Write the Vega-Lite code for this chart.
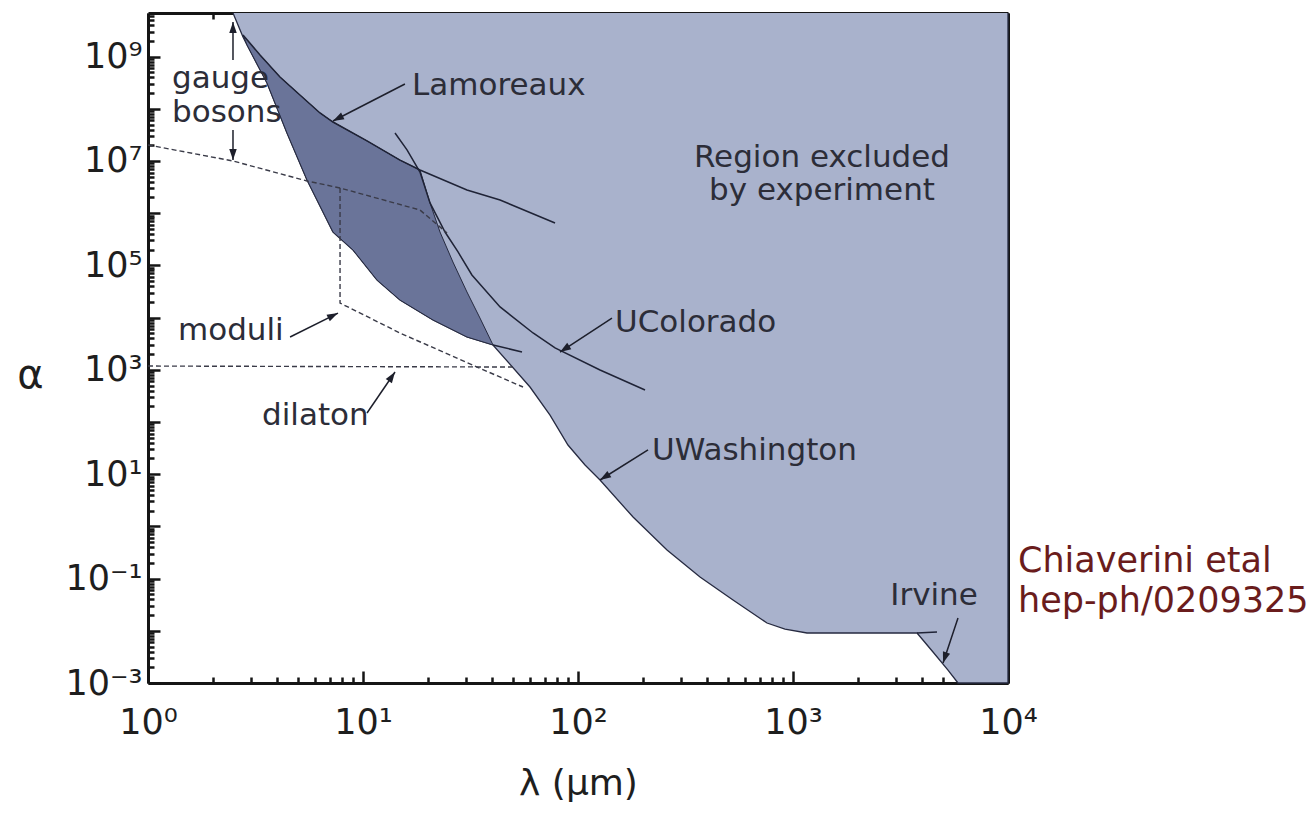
{
  "$schema": "https://vega.github.io/schema/vega-lite/v6.json",
  "width": 860,
  "height": 670,
  "autosize": {"type": "none"},
  "padding": {"left": 148, "top": 13, "right": 301, "bottom": 130},
  "background": "white",
  "config": {"view": {"stroke": null}, "font": "DejaVu Sans", "axis": {"grid": false}},
  "resolve": {"axis": {"x": "independent", "y": "independent"}},
  "datasets": {
    "light": [
      {"i": 1, "x": 2.485, "y": 6.84e9},
      {"i": 2, "x": 2.766, "y": 2.37e9},
      {"i": 3, "x": 2.888, "y": 1.67e9},
      {"i": 4, "x": 3.577, "y": 3.12e8},
      {"i": 5, "x": 4.43, "y": 3.44e7},
      {"i": 6, "x": 5.49, "y": 4.33e6},
      {"i": 7, "x": 7.25, "y": 4.36e5},
      {"i": 8, "x": 8.99, "y": 1.97e5},
      {"i": 9, "x": 11.62, "y": 5.25e4},
      {"i": 10, "x": 14.86, "y": 2.17e4},
      {"i": 11, "x": 21.16, "y": 9.0e3},
      {"i": 12, "x": 30.45, "y": 4.25e3},
      {"i": 13, "x": 40.24, "y": 2.99e3},
      {"i": 14, "x": 59.8, "y": 468},
      {"i": 15, "x": 74.1, "y": 135},
      {"i": 16, "x": 89.8, "y": 36.2},
      {"i": 17, "x": 107.8, "y": 15.0},
      {"i": 18, "x": 126.6, "y": 7.74},
      {"i": 19, "x": 180.3, "y": 1.51},
      {"i": 20, "x": 259.4, "y": 0.353},
      {"i": 21, "x": 369.4, "y": 0.107},
      {"i": 22, "x": 526, "y": 0.0389},
      {"i": 23, "x": 757, "y": 0.0141},
      {"i": 24, "x": 918, "y": 0.0108},
      {"i": 25, "x": 1162, "y": 0.00908},
      {"i": 26, "x": 3774, "y": 0.00908},
      {"i": 27, "x": 4479, "y": 0.00393},
      {"i": 28, "x": 5259, "y": 0.00177},
      {"i": 29, "x": 5854, "y": 0.001},
      {"i": 30, "x": 10000, "y": 0.001},
      {"i": 31, "x": 10000, "y": 6.84e9}
    ],
    "dark": [
      {"i": 1, "x": 2.766, "y": 2.6e9},
      {"i": 2, "x": 2.888, "y": 1.67e9},
      {"i": 3, "x": 3.577, "y": 3.12e8},
      {"i": 4, "x": 4.43, "y": 3.44e7},
      {"i": 5, "x": 5.49, "y": 4.33e6},
      {"i": 6, "x": 7.25, "y": 4.36e5},
      {"i": 7, "x": 8.99, "y": 1.97e5},
      {"i": 8, "x": 11.62, "y": 5.25e4},
      {"i": 9, "x": 14.86, "y": 2.17e4},
      {"i": 10, "x": 21.16, "y": 9.0e3},
      {"i": 11, "x": 30.45, "y": 4.25e3},
      {"i": 12, "x": 40.24, "y": 2.99e3},
      {"i": 13, "x": 35.0, "y": 9.8e3},
      {"i": 14, "x": 30.45, "y": 3.09e4},
      {"i": 15, "x": 26.2, "y": 1.16e5},
      {"i": 16, "x": 22.81, "y": 4.36e5},
      {"i": 17, "x": 20.5, "y": 1.57e6},
      {"i": 18, "x": 18.41, "y": 6.73e6},
      {"i": 19, "x": 14.86, "y": 1.04e7},
      {"i": 20, "x": 10.44, "y": 2.42e7},
      {"i": 21, "x": 7.25, "y": 5.58e7},
      {"i": 22, "x": 6.31, "y": 8.31e7},
      {"i": 23, "x": 5.09, "y": 1.84e8},
      {"i": 24, "x": 4.11, "y": 4.06e8},
      {"i": 25, "x": 3.32, "y": 1.07e9}
    ],
    "curves": [
      {"name": "Lamoreaux", "i": 1, "x": 2.766, "y": 2.6e9},
      {"name": "Lamoreaux", "i": 2, "x": 3.32, "y": 1.07e9},
      {"name": "Lamoreaux", "i": 3, "x": 4.11, "y": 4.06e8},
      {"name": "Lamoreaux", "i": 4, "x": 5.09, "y": 1.84e8},
      {"name": "Lamoreaux", "i": 5, "x": 6.31, "y": 8.31e7},
      {"name": "Lamoreaux", "i": 6, "x": 7.25, "y": 5.58e7},
      {"name": "Lamoreaux", "i": 7, "x": 10.44, "y": 2.42e7},
      {"name": "Lamoreaux", "i": 8, "x": 14.86, "y": 1.04e7},
      {"name": "Lamoreaux", "i": 9, "x": 18.41, "y": 6.73e6},
      {"name": "Lamoreaux", "i": 10, "x": 30.45, "y": 2.78e6},
      {"name": "Lamoreaux", "i": 11, "x": 43.4, "y": 1.79e6},
      {"name": "Lamoreaux", "i": 12, "x": 78.2, "y": 6.49e5},
      {"name": "UColorado", "i": 1, "x": 14.09, "y": 3.44e7},
      {"name": "UColorado", "i": 2, "x": 16.02, "y": 1.63e7},
      {"name": "UColorado", "i": 3, "x": 18.41, "y": 6.15e6},
      {"name": "UColorado", "i": 4, "x": 20.5, "y": 1.57e6},
      {"name": "UColorado", "i": 5, "x": 24.07, "y": 4.36e5},
      {"name": "UColorado", "i": 6, "x": 27.67, "y": 1.81e5},
      {"name": "UColorado", "i": 7, "x": 32.1, "y": 6.55e4},
      {"name": "UColorado", "i": 8, "x": 43.4, "y": 1.6e4},
      {"name": "UColorado", "i": 9, "x": 61.8, "y": 5.07e3},
      {"name": "UColorado", "i": 10, "x": 78.2, "y": 2.62e3},
      {"name": "UColorado", "i": 11, "x": 126.6, "y": 991},
      {"name": "UColorado", "i": 12, "x": 205, "y": 410},
      {"name": "tip", "i": 1, "x": 40.24, "y": 2.99e3},
      {"name": "tip", "i": 2, "x": 54.9, "y": 2.19e3},
      {"name": "Irvine", "i": 1, "x": 3774, "y": 0.00908},
      {"name": "Irvine", "i": 2, "x": 4675, "y": 0.00948}
    ],
    "dashed": [
      {"name": "gauge", "i": 1, "x": 1, "y": 2.03e7},
      {"name": "gauge", "i": 2, "x": 2.485, "y": 1.0e7},
      {"name": "gauge", "i": 3, "x": 5.49, "y": 4.14e6},
      {"name": "gauge", "i": 4, "x": 7.82, "y": 3.04e6},
      {"name": "gauge", "i": 5, "x": 18.41, "y": 1.15e6},
      {"name": "gauge", "i": 6, "x": 24.6, "y": 4.18e5},
      {"name": "moduli", "i": 1, "x": 7.82, "y": 3.04e6},
      {"name": "moduli", "i": 2, "x": 7.82, "y": 1.9e4},
      {"name": "moduli", "i": 3, "x": 14.86, "y": 5.07e3},
      {"name": "moduli", "i": 4, "x": 33.9, "y": 1.13e3},
      {"name": "moduli", "i": 5, "x": 55.5, "y": 468},
      {"name": "dilaton", "i": 1, "x": 1, "y": 1.18e3},
      {"name": "dilaton", "i": 2, "x": 50.9, "y": 1.13e3}
    ],
    "arrows": [
      {"tx": 2.485, "ty": 8.6e8, "hx": 2.485, "hy": 4.6e9},
      {"tx": 2.485, "ty": 3.93e7, "hx": 2.485, "hy": 1.04e7},
      {"tx": 15.67, "ty": 2.99e8, "hx": 7.25, "hy": 5.84e7},
      {"tx": 4.58, "ty": 4.25e3, "hx": 7.65, "hy": 1.22e4},
      {"tx": 10.44, "ty": 149, "hx": 14.09, "hy": 907},
      {"tx": 143.9, "ty": 9.8e3, "hx": 82.5, "hy": 2.19e3},
      {"tx": 211.7, "ty": 29.1, "hx": 126.6, "hy": 7.74},
      {"tx": 5854, "ty": 0.0176, "hx": 4986, "hy": 0.00242}
    ],
    "notes": [
      {"label": "gauge", "x": 1.293, "y": 2.5e8},
      {"label": "bosons", "x": 1.293, "y": 5.58e7},
      {"label": "Lamoreaux", "x": 16.9, "y": 1.84e8},
      {"label": "moduli", "x": 1.379, "y": 3.72e3},
      {"label": "dilaton", "x": 3.39, "y": 87.7},
      {"label": "UColorado", "x": 148.6, "y": 5.3e3},
      {"label": "UWashington", "x": 221, "y": 18.7}
    ],
    "notes_mid": [
      {"label": "Region excluded", "x": 1364, "y": 7.67e6},
      {"label": "by experiment", "x": 1364, "y": 1.79e6},
      {"label": "Irvine", "x": 4528, "y": 0.0312}
    ],
    "handnote": [
      {"label": "Chiaverini etal", "x": 11130, "y": 0.1336},
      {"label": "hep-ph/0209325", "x": 11130, "y": 0.0229}
    ],
    "anchor": [{"x": 1, "y": 1}]
  },
  "layer": [
    {
      "data": {"name": "light"},
      "mark": {"type": "line", "fill": "#a9b2cc", "stroke": "#262a40", "strokeWidth": 1.3},
      "encoding": {
        "x": {"field": "x", "type": "quantitative", "scale": {"type": "log", "domain": [1, 10000], "nice": false}, "axis": null},
        "y": {"field": "y", "type": "quantitative", "scale": {"type": "log", "domain": [0.001, 6.84e9], "nice": false}, "axis": null},
        "order": {"field": "i", "type": "quantitative"}
      }
    },
    {
      "data": {"name": "dark"},
      "mark": {"type": "line", "fill": "#6a7499", "stroke": "#262a40", "strokeWidth": 1},
      "encoding": {
        "x": {"field": "x", "type": "quantitative", "scale": {"type": "log", "domain": [1, 10000], "nice": false}, "axis": null},
        "y": {"field": "y", "type": "quantitative", "scale": {"type": "log", "domain": [0.001, 6.84e9], "nice": false}, "axis": null},
        "order": {"field": "i", "type": "quantitative"}
      }
    },
    {
      "data": {"name": "curves"},
      "mark": {"type": "line", "color": "#1f2336", "strokeWidth": 1.5},
      "encoding": {
        "x": {"field": "x", "type": "quantitative", "scale": {"type": "log", "domain": [1, 10000], "nice": false}, "axis": null},
        "y": {"field": "y", "type": "quantitative", "scale": {"type": "log", "domain": [0.001, 6.84e9], "nice": false}, "axis": null},
        "detail": {"field": "name"},
        "order": {"field": "i", "type": "quantitative"}
      }
    },
    {
      "data": {"name": "dashed"},
      "mark": {"type": "line", "color": "#3a3b48", "strokeWidth": 1.4, "strokeDash": [5, 3]},
      "encoding": {
        "x": {"field": "x", "type": "quantitative", "scale": {"type": "log", "domain": [1, 10000], "nice": false}, "axis": null},
        "y": {"field": "y", "type": "quantitative", "scale": {"type": "log", "domain": [0.001, 6.84e9], "nice": false}, "axis": null},
        "detail": {"field": "name"},
        "order": {"field": "i", "type": "quantitative"}
      }
    },
    {
      "data": {"name": "arrows"},
      "mark": {"type": "rule", "color": "#1d1f2b", "strokeWidth": 1.5},
      "encoding": {
        "x": {"field": "tx", "type": "quantitative", "scale": {"type": "log", "domain": [1, 10000], "nice": false}, "axis": null},
        "y": {"field": "ty", "type": "quantitative", "scale": {"type": "log", "domain": [0.001, 6.84e9], "nice": false}, "axis": null},
        "x2": {"field": "hx"},
        "y2": {"field": "hy"}
      }
    },
    {
      "data": {"name": "arrows"},
      "transform": [
        {"calculate": "atan2(215 * log(datum.hx / datum.tx) / LN10, 52.2 * log(datum.hy / datum.ty) / LN10) * 180 / PI", "as": "ang"}
      ],
      "mark": {"type": "point", "shape": "M0,0L-0.75,2.2L0.75,2.2Z", "filled": true, "color": "#1d1f2b", "opacity": 1, "size": 100},
      "encoding": {
        "x": {"field": "hx", "type": "quantitative", "scale": {"type": "log", "domain": [1, 10000], "nice": false}, "axis": null},
        "y": {"field": "hy", "type": "quantitative", "scale": {"type": "log", "domain": [0.001, 6.84e9], "nice": false}, "axis": null},
        "angle": {"field": "ang", "type": "quantitative", "scale": null}
      }
    },
    {
      "data": {"name": "notes"},
      "mark": {"type": "text", "align": "left", "baseline": "alphabetic", "font": "DejaVu Sans", "fontSize": 31, "color": "#2c2d38"},
      "encoding": {
        "x": {"field": "x", "type": "quantitative", "scale": {"type": "log", "domain": [1, 10000], "nice": false}, "axis": null},
        "y": {"field": "y", "type": "quantitative", "scale": {"type": "log", "domain": [0.001, 6.84e9], "nice": false}, "axis": null},
        "text": {"field": "label"}
      }
    },
    {
      "data": {"name": "notes_mid"},
      "mark": {"type": "text", "align": "center", "baseline": "alphabetic", "font": "DejaVu Sans", "fontSize": 31, "color": "#2c2d38"},
      "encoding": {
        "x": {"field": "x", "type": "quantitative", "scale": {"type": "log", "domain": [1, 10000], "nice": false}, "axis": null},
        "y": {"field": "y", "type": "quantitative", "scale": {"type": "log", "domain": [0.001, 6.84e9], "nice": false}, "axis": null},
        "text": {"field": "label"}
      }
    },
    {
      "data": {"name": "handnote"},
      "mark": {"type": "text", "align": "left", "baseline": "alphabetic", "font": "DejaVu Sans", "fontSize": 35, "color": "#6a1c1c"},
      "encoding": {
        "x": {"field": "x", "type": "quantitative", "scale": {"type": "log", "domain": [1, 10000], "nice": false}, "axis": null},
        "y": {"field": "y", "type": "quantitative", "scale": {"type": "log", "domain": [0.001, 6.84e9], "nice": false}, "axis": null},
        "text": {"field": "label"}
      }
    },
    {
      "data": {"name": "anchor"},
      "mark": {"type": "point", "opacity": 0},
      "encoding": {
        "x": {"field": "x", "type": "quantitative", "scale": {"type": "log", "domain": [1, 10000], "nice": false},
          "axis": {"orient": "bottom", "values": [1, 10, 100, 1000, 10000], "tickSize": -12, "tickWidth": 2.5, "tickColor": "#151515",
            "domain": true, "domainWidth": 3, "domainColor": "#151515",
            "labelExpr": "['10⁰','10¹','10²','10³','10⁴'][round(log(datum.value) / LN10)]",
            "labelFont": "DejaVu Sans", "labelFontSize": 35, "labelColor": "#1e1e1e", "labelPadding": 34, "labelFlush": false, "labelOverlap": false,
            "title": "λ (μm)", "titleFont": "DejaVu Sans", "titleFontSize": 36, "titleFontWeight": "normal", "titleColor": "#1e1e1e", "titlePadding": 26}},
        "y": {"field": "y", "type": "quantitative", "scale": {"type": "log", "domain": [0.001, 6.84e9], "nice": false},
          "axis": {"orient": "left", "values": [0.001, 0.01, 0.1, 1, 10, 100, 1000, 10000, 100000, 1000000, 10000000, 100000000, 1000000000],
            "tickSize": -12, "tickWidth": 2.5, "tickColor": "#151515",
            "domain": true, "domainWidth": 3, "domainColor": "#151515",
            "labelExpr": "['10⁻³','','10⁻¹','','10¹','','10³','','10⁵','','10⁷','','10⁹'][round(log(datum.value) / LN10) + 3]",
            "labelFont": "DejaVu Sans", "labelFontSize": 35, "labelColor": "#1e1e1e", "labelPadding": 18, "labelBaseline": "middle", "labelFlush": false, "labelOverlap": false,
            "title": "α", "titleAngle": 0, "titleX": -118, "titleY": 362, "titleAlign": "center", "titleBaseline": "middle",
            "titleFont": "DejaVu Sans", "titleFontSize": 40, "titleFontWeight": "normal", "titleColor": "#1e1e1e"}}
      }
    },
    {
      "data": {"name": "anchor"},
      "mark": {"type": "point", "opacity": 0},
      "encoding": {
        "x": {"field": "x", "type": "quantitative", "scale": {"type": "log", "domain": [1, 10000], "nice": false},
          "axis": {"orient": "bottom", "values": [2, 3, 4, 5, 6, 7, 8, 9, 20, 30, 40, 50, 60, 70, 80, 90, 200, 300, 400, 500, 600, 700, 800, 900, 2000, 3000, 4000, 5000, 6000, 7000, 8000, 9000],
            "tickSize": -6, "tickWidth": 2.5, "tickColor": "#151515", "domain": false, "labels": false, "title": null}},
        "y": {"field": "y", "type": "quantitative", "scale": {"type": "log", "domain": [0.001, 6.84e9], "nice": false},
          "axis": {"orient": "left", "values": [0.002, 0.003, 0.004, 0.005, 0.006, 0.007, 0.008, 0.009, 0.02, 0.03, 0.04, 0.05, 0.06, 0.07, 0.08, 0.09, 0.2, 0.3, 0.4, 0.5, 0.6, 0.7, 0.8, 0.9, 2, 3, 4, 5, 6, 7, 8, 9, 20, 30, 40, 50, 60, 70, 80, 90, 200, 300, 400, 500, 600, 700, 800, 900, 2000, 3000, 4000, 5000, 6000, 7000, 8000, 9000, 20000, 30000, 40000, 50000, 60000, 70000, 80000, 90000, 200000, 300000, 400000, 500000, 600000, 700000, 800000, 900000, 2000000, 3000000, 4000000, 5000000, 6000000, 7000000, 8000000, 9000000, 20000000, 30000000, 40000000, 50000000, 60000000, 70000000, 80000000, 90000000, 200000000, 300000000, 400000000, 500000000, 600000000, 700000000, 800000000, 900000000, 2000000000, 3000000000, 4000000000, 5000000000, 6000000000],
            "tickSize": -6, "tickWidth": 2.5, "tickColor": "#151515", "domain": false, "labels": false, "title": null}}
      }
    },
    {
      "data": {"name": "anchor"},
      "mark": {"type": "point", "opacity": 0},
      "encoding": {
        "x": {"field": "x", "type": "quantitative", "scale": {"type": "log", "domain": [1, 10000], "nice": false},
          "axis": {"orient": "top", "values": [1, 10, 100, 1000, 10000], "tickSize": -12, "tickWidth": 2.5, "tickColor": "#151515",
            "domain": true, "domainWidth": 3, "domainColor": "#151515", "labels": false, "title": null}},
        "y": {"field": "y", "type": "quantitative", "scale": {"type": "log", "domain": [0.001, 6.84e9], "nice": false},
          "axis": {"orient": "right", "values": [0.001, 0.01, 0.1, 1, 10, 100, 1000, 10000, 100000, 1000000, 10000000, 100000000, 1000000000],
            "tickSize": -12, "tickWidth": 2.5, "tickColor": "#151515",
            "domain": true, "domainWidth": 3, "domainColor": "#151515", "labels": false, "title": null}}
      }
    },
    {
      "data": {"name": "anchor"},
      "mark": {"type": "point", "opacity": 0},
      "encoding": {
        "x": {"field": "x", "type": "quantitative", "scale": {"type": "log", "domain": [1, 10000], "nice": false},
          "axis": {"orient": "top", "values": [2, 3, 4, 5, 6, 7, 8, 9, 20, 30, 40, 50, 60, 70, 80, 90, 200, 300, 400, 500, 600, 700, 800, 900, 2000, 3000, 4000, 5000, 6000, 7000, 8000, 9000],
            "tickSize": -6, "tickWidth": 2.5, "tickColor": "#151515", "domain": false, "labels": false, "title": null}},
        "y": {"field": "y", "type": "quantitative", "scale": {"type": "log", "domain": [0.001, 6.84e9], "nice": false},
          "axis": {"orient": "right", "values": [0.002, 0.003, 0.004, 0.005, 0.006, 0.007, 0.008, 0.009, 0.02, 0.03, 0.04, 0.05, 0.06, 0.07, 0.08, 0.09, 0.2, 0.3, 0.4, 0.5, 0.6, 0.7, 0.8, 0.9, 2, 3, 4, 5, 6, 7, 8, 9, 20, 30, 40, 50, 60, 70, 80, 90, 200, 300, 400, 500, 600, 700, 800, 900, 2000, 3000, 4000, 5000, 6000, 7000, 8000, 9000, 20000, 30000, 40000, 50000, 60000, 70000, 80000, 90000, 200000, 300000, 400000, 500000, 600000, 700000, 800000, 900000, 2000000, 3000000, 4000000, 5000000, 6000000, 7000000, 8000000, 9000000, 20000000, 30000000, 40000000, 50000000, 60000000, 70000000, 80000000, 90000000, 200000000, 300000000, 400000000, 500000000, 600000000, 700000000, 800000000, 900000000, 2000000000, 3000000000, 4000000000, 5000000000, 6000000000],
            "tickSize": -6, "tickWidth": 2.5, "tickColor": "#151515", "domain": false, "labels": false, "title": null}}
      }
    }
  ]
}
